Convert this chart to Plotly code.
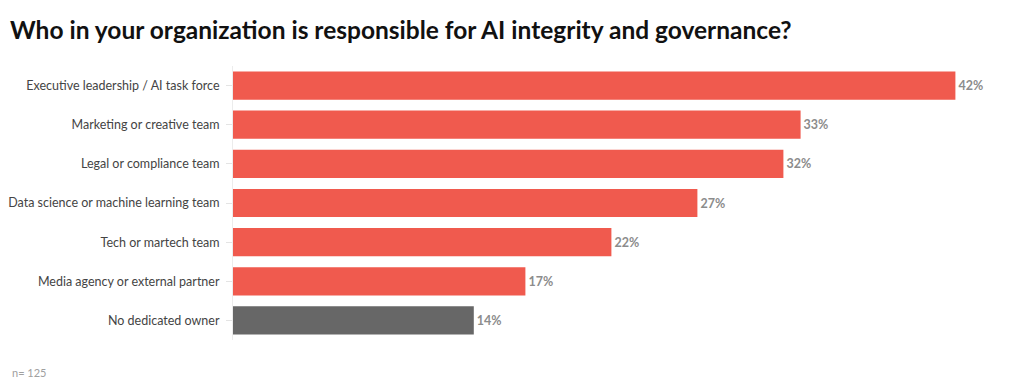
import plotly.graph_objects as go

categories = [
    "Executive leadership / AI task force",
    "Marketing or creative team",
    "Legal or compliance team",
    "Data science or machine learning team",
    "Tech or martech team",
    "Media agency or external partner",
    "No dedicated owner",
]
values = [42, 33, 32, 27, 22, 17, 14]
bar_colors = ["#F05A4E"] * 6 + ["#676767"]
value_labels = [f"{v}%" for v in values]

L, R, T, B = 225, 21, 58, 59
PW = 1020 - L - R
PH = 391 - T - B

fig = go.Figure(
    go.Bar(
        y=categories,
        x=values,
        orientation="h",
        marker=dict(color=bar_colors, line=dict(width=0)),
        text=value_labels,
        textposition="outside",
        textfont=dict(family="Lato, sans-serif", size=12.5, color="#8c8c8c", weight="bold"),
        cliponaxis=False,
        hoverinfo="skip",
    )
)

fig.update_layout(
    width=1020,
    height=391,
    margin=dict(l=L, r=R, t=T, b=B, autoexpand=False),
    paper_bgcolor="white",
    plot_bgcolor="white",
    bargap=0.28,
    showlegend=False,
    title=dict(
        text="Who in your organization is responsible for AI integrity and governance?",
        x=2 / 1020,
        xanchor="left",
        y=1 - 22 / 391,
        yanchor="middle",
        font=dict(family="Lato, sans-serif", size=24.5, color="#111111", weight="bold"),
    ),
    annotations=[
        dict(
            text="n= 125",
            xref="paper",
            yref="paper",
            x=(2 - L) / PW,
            xanchor="left",
            y=-32 / PH,
            yanchor="middle",
            showarrow=False,
            font=dict(family="Lato, sans-serif", size=11, color="#a0a0a0"),
        )
    ],
)

fig.update_xaxes(range=[0, 45], visible=False, automargin=False)
fig.update_yaxes(
    automargin=False,
    categoryorder="array",
    categoryarray=categories[::-1],
    showline=True,
    linecolor="#ececec",
    linewidth=1,
    ticks="outside",
    ticklen=6,
    tickcolor="#e4e4e4",
    showgrid=False,
    tickfont=dict(family="Lato, sans-serif", size=12.5, color="#444444"),
    ticklabelstandoff=4,
)

fig.write_html("out.html")
